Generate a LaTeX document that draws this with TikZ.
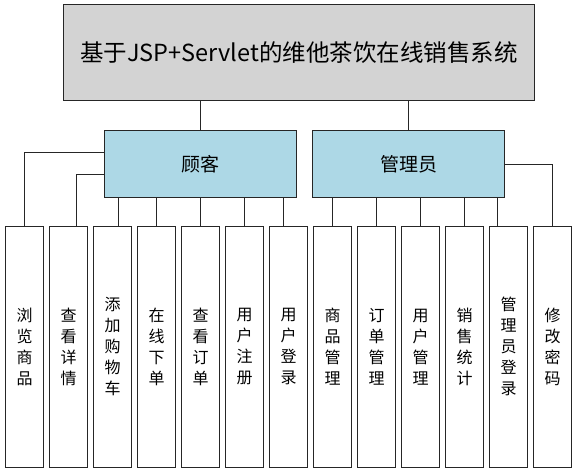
\documentclass[tikz,border=0pt]{standalone}
\usepackage{fontspec}
\setmainfont{Noto Sans CJK SC}
\definecolor{topfill}{HTML}{D3D3D3}
\definecolor{midfill}{HTML}{ADD8E6}
\definecolor{edge}{HTML}{262626}
\tikzset{
  box/.style={draw=edge, line width=1pt, rectangle, inner sep=0pt},
  topbox/.style={box, fill=topfill, minimum width=470.6pt, minimum height=96pt,
    font=\fontsize{23.5}{28}\selectfont},
  midbox/.style={box, fill=midfill, minimum width=192pt, minimum height=66.8pt,
    font=\fontsize{19}{23}\selectfont},
  leafbox/.style={box, fill=white, minimum width=38.5pt, minimum height=240.3pt,
    align=center, font=\fontsize{16}{21}\selectfont},
  conn/.style={draw=edge, line width=1pt}
}
\begin{document}
\begin{tikzpicture}[x=1pt,y=-1pt]
\useasboundingbox (0,0) rectangle (577,473);
\node[topbox] (top) at (299,53) {基于JSP+Servlet的维他茶饮在线销售系统};
\node[midbox] (cust) at (200.5,164.1) {顾客};
\node[midbox] (adm) at (408.7,164.1) {管理员};
\node[leafbox] (l1)  at (24.5,346.85)  {浏\\览\\商\\品};
\node[leafbox] (l2)  at (68.5,346.85)  {查\\看\\详\\情};
\node[leafbox] (l3)  at (112.5,346.85) {添\\加\\购\\物\\车};
\node[leafbox] (l4)  at (156.5,346.85) {在\\线\\下\\单};
\node[leafbox] (l5)  at (200.5,346.85) {查\\看\\订\\单};
\node[leafbox] (l6)  at (244.5,346.85) {用\\户\\注\\册};
\node[leafbox] (l7)  at (288.5,346.85) {用\\户\\登\\录};
\node[leafbox] (l8)  at (332.5,346.85) {商\\品\\管\\理};
\node[leafbox] (l9)  at (376.5,346.85) {订\\单\\管\\理};
\node[leafbox] (l10) at (420.5,346.85) {用\\户\\管\\理};
\node[leafbox] (l11) at (464.5,346.85) {销\\售\\统\\计};
\node[leafbox] (l12) at (508.5,346.85) {管\\理\\员\\登\\录};
\node[leafbox] (l13) at (552.5,346.85) {修\\改\\密\\码};
% top to middle
\draw[conn] (top.south -| cust.north) -- (cust.north);
\draw[conn] (top.south -| adm.north) -- (adm.north);
% customer leaves
\draw[conn] ([yshift=11.4pt]cust.west) -| (l1.north);
\draw[conn] ([yshift=-10.6pt]cust.west) -| ([xshift=7.5pt]l2.north);
\draw[conn] ([xshift=5.5pt]l3.north |- cust.south) -- ([xshift=5.5pt]l3.north);
\draw[conn] (l4.north |- cust.south) -- (l4.north);
\draw[conn] (l5.north |- cust.south) -- (l5.north);
\draw[conn] (l6.north |- cust.south) -- (l6.north);
\draw[conn] ([xshift=-5.5pt]l7.north |- cust.south) -- ([xshift=-5.5pt]l7.north);
% admin leaves
\draw[conn] (l8.north |- adm.south) -- (l8.north);
\draw[conn] (l9.north |- adm.south) -- (l9.north);
\draw[conn] (l10.north |- adm.south) -- (l10.north);
\draw[conn] (l11.north |- adm.south) -- (l11.north);
\draw[conn] ([xshift=-11.5pt]l12.north |- adm.south) -- ([xshift=-11.5pt]l12.north);
\draw[conn] (adm.east) -| (l13.north);
\end{tikzpicture}
\end{document}
